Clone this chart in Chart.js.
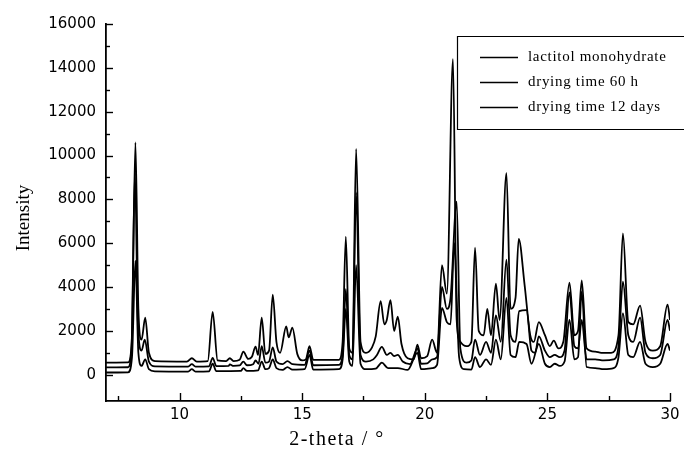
<!DOCTYPE html>
<html><head><meta charset="utf-8">
<script src="https://cdn.jsdelivr.net/npm/chart.js@4"></script>
<style>html,body{margin:0;padding:0;background:#fff;} canvas{display:block;}</style>
</head><body>
<canvas id="c" width="690" height="455" style="width:690px;height:455px"></canvas>
<script>
const seriesNames = ['lactitol monohydrate', 'drying time 60 h', 'drying time 12 days'];

// [2-theta, intensity]
const lactitolMonohydrate = [[7.0,550],[7.9,560],[8.05,1500],[8.2,10600],[8.32,3000],[8.45,1600],[8.6,2600],[8.75,1000],[9.0,620],[10.3,600],[10.5,750],[10.7,600],[11.15,620],[11.35,2870],[11.55,650],[11.9,620],[12.05,750],[12.2,620],[12.45,680],[12.6,1050],[12.8,720],[12.95,820],[13.1,1280],[13.2,900],[13.35,2600],[13.5,950],[13.65,1100],[13.8,3650],[13.95,1500],[14.1,1000],[14.35,2200],[14.45,1700],[14.6,2150],[14.8,950],[15.0,650],[15.15,700],[15.3,1300],[15.45,680],[16.5,680],[16.65,1500],[16.78,6300],[16.92,1200],[17.05,1000],[17.2,10300],[17.38,1500],[17.6,1000],[17.85,1250],[18.0,1750],[18.2,3350],[18.35,2300],[18.45,2500],[18.6,3400],[18.75,2000],[18.9,2650],[19.05,1400],[19.3,750],[19.55,700],[19.7,1370],[19.85,750],[20.1,850],[20.3,1600],[20.5,1000],[20.7,5000],[20.9,3700],[21.15,14400],[21.3,2500],[21.45,1500],[21.7,1300],[21.9,1500],[22.05,5800],[22.2,2000],[22.4,1800],[22.55,3000],[22.7,1800],[22.9,4150],[23.05,2500],[23.33,9200],[23.5,3000],[23.7,3500],[23.83,6200],[24.07,4100],[24.3,1800],[24.45,1500],[24.65,2400],[24.9,1800],[25.1,1300],[25.26,1550],[25.45,1200],[25.65,1500],[25.9,4200],[26.1,1800],[26.25,2000],[26.4,4300],[26.6,1200],[26.95,1050],[27.2,1000],[27.6,1000],[27.9,1800],[28.08,6450],[28.3,2400],[28.5,2300],[28.78,3150],[29.0,1500],[29.3,1100],[29.6,1300],[29.9,3200],[30.0,2500]];

const dryingTime60h = [[7.0,330],[7.9,340],[8.04,1200],[8.18,9200],[8.3,2400],[8.45,1100],[8.58,1600],[8.75,600],[9.0,380],[10.35,370],[10.5,480],[10.65,370],[11.2,380],[11.35,770],[11.5,390],[12.0,400],[12.05,470],[12.2,400],[12.45,420],[12.6,600],[12.75,430],[13.0,480],[13.1,650],[13.22,500],[13.35,1300],[13.5,550],[13.65,600],[13.8,1250],[13.95,600],[14.2,480],[14.4,620],[14.6,480],[15.1,450],[15.3,1100],[15.45,430],[16.5,450],[16.65,900],[16.78,3900],[16.92,900],[17.05,700],[17.2,8300],[17.38,900],[17.6,600],[17.9,700],[18.05,900],[18.25,1270],[18.45,900],[18.6,1000],[18.75,850],[18.9,900],[19.1,600],[19.4,480],[19.7,1200],[19.85,500],[20.1,520],[20.3,700],[20.5,800],[20.7,4000],[20.9,3000],[21.05,3500],[21.3,7900],[21.45,1200],[21.7,550],[21.9,650],[22.05,1600],[22.25,900],[22.5,1500],[22.7,1000],[22.9,2700],[23.1,1500],[23.33,5250],[23.5,1800],[23.7,1500],[23.85,2900],[24.15,2950],[24.35,1100],[24.5,1000],[24.65,1750],[24.9,1100],[25.1,800],[25.3,900],[25.5,800],[25.7,1100],[25.9,3750],[26.1,1300],[26.25,1200],[26.4,2500],[26.6,700],[26.95,700],[27.3,650],[27.7,700],[27.9,1300],[28.08,4250],[28.3,1800],[28.5,1500],[28.78,2600],[29.0,1000],[29.3,750],[29.6,900],[29.9,2500],[30.0,2000]];

const dryingTime12days = [[7.0,100],[7.9,110],[8.06,800],[8.2,5200],[8.32,1000],[8.45,400],[8.6,700],[8.75,250],[9.0,150],[10.35,140],[10.5,250],[10.65,140],[11.2,150],[11.35,500],[11.5,160],[12.5,170],[12.6,300],[12.75,170],[13.2,200],[13.35,600],[13.5,250],[13.65,300],[13.8,700],[13.95,300],[14.2,220],[14.4,350],[14.6,230],[15.1,250],[15.3,900],[15.45,230],[16.5,250],[16.65,700],[16.78,3000],[16.92,600],[17.05,400],[17.2,5000],[17.38,500],[17.6,250],[18.0,280],[18.25,550],[18.5,300],[18.9,300],[19.3,220],[19.7,1000],[19.85,250],[20.3,300],[20.5,450],[20.7,3050],[20.9,2400],[21.05,2300],[21.2,6000],[21.4,800],[21.6,250],[21.9,230],[22.05,800],[22.25,350],[22.5,700],[22.7,450],[22.9,1600],[23.1,700],[23.33,3500],[23.5,900],[23.7,800],[23.85,1500],[24.15,1400],[24.35,500],[24.65,1400],[24.9,500],[25.1,350],[25.3,500],[25.5,400],[25.7,600],[25.9,2500],[26.1,700],[26.25,800],[26.4,3800],[26.6,350],[26.95,300],[27.3,250],[27.7,300],[27.9,800],[28.08,2800],[28.3,900],[28.5,800],[28.78,1500],[29.0,500],[29.3,350],[29.6,500],[29.9,1400],[30.0,1100]];

const xTickLabels = [10, 15, 20, 25, 30];
const xTickValues = [7.5, 10, 12.5, 15, 17.5, 20, 22.5, 25, 27.5, 30];
const yTickLabels = [0, 2000, 4000, 6000, 8000, 10000, 12000, 14000, 16000];
const yTickValues = [0, 1000, 2000, 3000, 4000, 5000, 6000, 7000, 8000, 9000, 10000, 11000, 12000, 13000, 14000, 15000, 16000];
const xAxisTitle = '2-theta / °';
const yAxisTitle = 'Intensity';

const toXY = pts => pts.map(p => ({x: p[0], y: p[1]}));
const allSeries = [lactitolMonohydrate, dryingTime60h, dryingTime12days];

const inwardTicks = {
  id: 'inwardTicks',
  afterDraw(chart) {
    const {ctx, chartArea: a, scales: {x, y}} = chart;
    ctx.save();
    ctx.strokeStyle = '#000';
    ctx.lineWidth = 1.4;
    x.ticks.forEach(t => {
      const px = Math.round(x.getPixelForValue(t.value)) + 0.5;
      const major = xTickLabels.includes(t.value);
      ctx.beginPath(); ctx.moveTo(px, a.bottom); ctx.lineTo(px, a.bottom - (major ? 8 : 5)); ctx.stroke();
    });
    y.ticks.forEach(t => {
      const py = Math.round(y.getPixelForValue(t.value)) + 0.5;
      const major = yTickLabels.includes(t.value);
      ctx.beginPath(); ctx.moveTo(a.left, py); ctx.lineTo(a.left + (major ? 7 : 4), py); ctx.stroke();
    });
    // axis titles
    ctx.fillStyle = '#000';
    ctx.textAlign = 'center';
    ctx.textBaseline = 'middle';
    ctx.font = '20px "Liberation Serif", "Times New Roman", serif';
    ctx.letterSpacing = '1.5px';
    ctx.fillText(xAxisTitle, 337, 440);
    ctx.letterSpacing = '0px';
    ctx.translate(24, 218);
    ctx.rotate(-Math.PI / 2);
    ctx.font = '19px "Liberation Serif", "Times New Roman", serif';
    ctx.fillText(yAxisTitle, 0, 0);
    ctx.restore();

    // legend box
    ctx.save();
    ctx.strokeStyle = '#000';
    ctx.lineWidth = 1.2;
    ctx.beginPath();
    ctx.moveTo(684, 36.5); ctx.lineTo(457.5, 36.5); ctx.lineTo(457.5, 129.5); ctx.lineTo(684, 129.5); ctx.stroke();
    ctx.font = '15px "Liberation Serif", "Times New Roman", serif';
    ctx.letterSpacing = '0.7px';
    ctx.textAlign = 'left';
    ctx.textBaseline = 'middle';
    ctx.fillStyle = '#000';
    chart.data.datasets.forEach((ds, i) => {
      const yy = 57.5 + i * 25;
      ctx.lineWidth = 1.3;
      ctx.beginPath(); ctx.moveTo(480, yy); ctx.lineTo(518, yy); ctx.stroke();
      ctx.fillText(ds.label, 528, yy);
    });
    ctx.letterSpacing = '0px';
    ctx.restore();
  }
};

new Chart(document.getElementById('c'), {
  type: 'line',
  data: {
    datasets: allSeries.map((s, i) => ({
      label: seriesNames[i],
      data: toXY(s),
      borderColor: '#000',
      borderWidth: 1.8,
      pointRadius: 0,
      fill: false,
      cubicInterpolationMode: 'monotone'
    }))
  },
  options: {
    responsive: false,
    animation: false,
    devicePixelRatio: 1,
    layout: {padding: {left: 0, right: 20, top: 24, bottom: 0}},
    plugins: {legend: {display: false}, tooltip: {enabled: false}},
    scales: {
      x: {
        type: 'linear', min: 7, max: 30,
        afterFit(s) { s.height = 54; },
        afterBuildTicks(s) { s.ticks = xTickValues.map(v => ({value: v})); },
        grid: {display: true, drawOnChartArea: false, drawTicks: false},
        border: {display: true, color: '#000', width: 1.8},
        ticks: {
          padding: 5, color: '#000',
          font: {family: '"DejaVu Sans", Arial, sans-serif', size: 15},
          maxRotation: 0, autoSkip: false,
          callback: v => xTickLabels.includes(v) ? String(v) : ''
        }
      },
      y: {
        type: 'linear', min: -1200, max: 16000,
        afterFit(s) { s.width = 106; },
        afterBuildTicks(s) { s.ticks = yTickValues.map(v => ({value: v})); },
        grid: {display: true, drawOnChartArea: false, drawTicks: false},
        border: {display: true, color: '#000', width: 1.8},
        ticks: {
          padding: 10, color: '#000',
          font: {family: '"DejaVu Sans", Arial, sans-serif', size: 15},
          autoSkip: false,
          callback: v => yTickLabels.includes(v) ? String(v) : ''
        }
      }
    }
  },
  plugins: [inwardTicks]
});
</script>
</body></html>
